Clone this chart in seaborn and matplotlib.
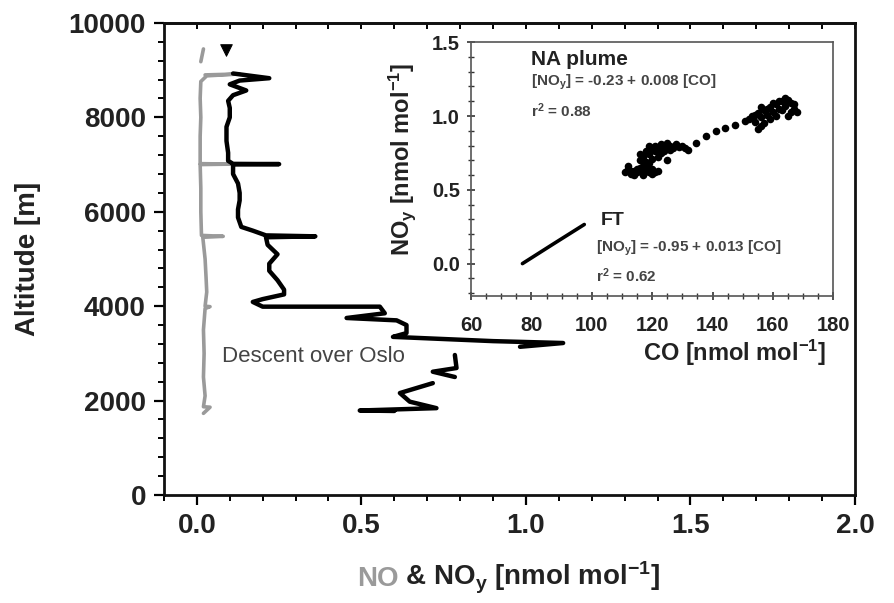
import numpy as np
import pandas as pd
import matplotlib
matplotlib.use("Agg")
import matplotlib.pyplot as plt
import seaborn as sns

# ---------------- data ----------------
# NOy profile (black), segments
noy_seg1_x = [0.11, 0.22, 0.13, 0.10, 0.15, 0.11, 0.095, 0.10, 0.10, 0.09, 0.09, 0.095, 0.095,
              0.11, 0.25, 0.11, 0.11, 0.125, 0.13, 0.13, 0.125, 0.125, 0.135, 0.17, 0.21, 0.36,
              0.21, 0.215, 0.245, 0.22, 0.22, 0.245, 0.265, 0.265, 0.20, 0.17, 0.20, 0.40, 0.556,
              0.571, 0.455, 0.607, 0.637, 0.637, 0.596, 0.90, 1.113, 0.982]
noy_seg1_alt = [8930, 8830, 8780, 8700, 8570, 8470, 8350, 8200, 8000, 7800, 7500, 7250, 7080,
                7015, 7010, 7005, 6800, 6600, 6400, 6240, 6050, 5880, 5680, 5600, 5500, 5480,
                5460, 5300, 5100, 4900, 4750, 4550, 4350, 4250, 4150, 4090, 3990, 3990, 3990,
                3850, 3750, 3700, 3600, 3430, 3350, 3260, 3220, 3140]
noy_seg2_x = [0.784, 0.789, 0.717, 0.784]
noy_seg2_alt = [2966, 2690, 2612, 2500]
noy_seg3_x = [0.717, 0.617, 0.647, 0.728, 0.495, 0.60]
noy_seg3_alt = [2370, 2160, 1977, 1840, 1790, 1780]
noy_top_x = [0.09]
noy_top_alt = [9420]

# NO profile (grey)
no_top_x = [0.012, 0.02]
no_top_alt = [9180, 9450]
no_main_x = [0.025, 0.13, 0.03, 0.012, 0.01, 0.012, 0.01, 0.01, 0.107, 0.01, 0.012, 0.012,
             0.014, 0.08, 0.018, 0.025, 0.028, 0.03, 0.025, 0.04, 0.025, 0.02, 0.022, 0.02,
             0.025, 0.02, 0.04, 0.02]
no_main_alt = [8900, 8920, 8880, 8760, 8400, 8000, 7600, 7020, 7010, 7000, 6500, 6000,
               5500, 5480, 5460, 5000, 4600, 4300, 4000, 3990, 3950, 3500, 3000, 2500,
               2100, 1870, 1860, 1730]

# Inset: NA plume scatter
plume_co = [111, 112, 113, 114, 115, 116, 117, 118, 119, 120, 121, 122, 112, 114, 116, 118, 120,
            113, 115, 117, 119,
            116, 117, 118, 116, 118, 119, 120, 121, 122, 123, 124, 125, 126, 127, 128, 129, 130,
            131, 132, 119, 121, 123, 125, 124, 126, 122, 120, 117, 119,
            134.4, 137.7, 141, 144.3, 147.6, 150.9,
            152, 153, 154, 155, 156, 157, 158, 159, 160, 161, 162, 163, 164, 165, 166, 167, 168,
            166, 164, 162, 160, 158, 156, 155, 157, 159, 161, 163, 165, 167, 154, 156]
plume_noy = [0.62, 0.64, 0.61, 0.63, 0.62, 0.65, 0.61, 0.63, 0.62, 0.64, 0.62, 0.63, 0.66, 0.60,
             0.63, 0.66, 0.61, 0.63, 0.64, 0.60, 0.65,
             0.70, 0.72, 0.69, 0.74, 0.76, 0.74, 0.78, 0.80, 0.77, 0.81, 0.79, 0.82, 0.80, 0.78,
             0.81, 0.79, 0.80, 0.78, 0.77, 0.80, 0.76, 0.75, 0.70, 0.76, 0.77, 0.72, 0.71, 0.66,
             0.68,
             0.82, 0.865, 0.90, 0.92, 0.94, 0.966,
             0.98, 1.00, 0.96, 1.02, 0.99, 1.04, 1.01, 1.06, 1.03, 1.08, 1.05, 1.10, 1.07, 1.11,
             1.09, 1.05, 1.03, 1.03, 1.12, 1.10, 1.09, 1.05, 0.93, 0.91, 0.95, 0.98, 1.00, 1.04,
             1.00, 1.08, 1.01, 1.06]
# Inset: FT
ft_co = [77, 87, 97.5]
ft_noy = [0.0, 0.13, 0.265]

main_xticks = [0.0, 0.5, 1.0, 1.5, 2.0]
main_yticks = [0, 2000, 4000, 6000, 8000, 10000]
inset_xticks = [60, 80, 100, 120, 140, 160, 180]
inset_yticks = [0.0, 0.5, 1.0, 1.5]

# ---------------- style ----------------
sns.set_theme(style="ticks")
plt.rcParams["font.family"] = ["Liberation Sans", "DejaVu Sans"]
plt.rcParams.update({
    "mathtext.fontset": "custom",
    "mathtext.rm": "Liberation Sans:bold",
    "mathtext.it": "Liberation Sans:bold",
    "mathtext.bf": "Liberation Sans:bold",
    "mathtext.sf": "Liberation Sans:bold",
    "mathtext.default": "rm",
})

GREY = "#9a9a9a"
fig = plt.figure(figsize=(8.94, 6.03), dpi=100)
ax = fig.add_axes([0.1834, 0.1791, 0.7730, 0.7828])

def seg_df(parts):
    rows = []
    for i, (xs, ys) in enumerate(parts):
        for x, y in zip(xs, ys):
            rows.append({"x": x, "alt": y, "seg": i})
    return pd.DataFrame(rows)

no_df = seg_df([(no_top_x, no_top_alt), (no_main_x, no_main_alt)])
noy_df = seg_df([(noy_seg1_x, noy_seg1_alt), (noy_seg2_x, noy_seg2_alt), (noy_seg3_x, noy_seg3_alt)])

sns.lineplot(data=no_df, x="x", y="alt", units="seg", estimator=None, sort=False,
             color=GREY, linewidth=2.6, ax=ax, legend=False)
sns.lineplot(data=noy_df, x="x", y="alt", units="seg", estimator=None, sort=False,
             color="black", linewidth=3.2, ax=ax, legend=False)
sns.scatterplot(x=noy_top_x, y=noy_top_alt, marker="v", s=70, color="black",
                edgecolor="black", ax=ax, legend=False)

ax.set_xlim(-0.1, 2.0)
ax.set_ylim(0, 10000)
ax.set_xticks(main_xticks)
ax.set_xticklabels([f"{v:.1f}" for v in main_xticks])
ax.set_xticks(np.arange(-0.1, 2.001, 0.1), minor=True)
ax.set_yticks(main_yticks)
ax.set_yticklabels([str(v) for v in main_yticks])
ax.set_yticks(np.arange(0, 10001, 400), minor=True)
ax.tick_params(axis="both", which="major", direction="out", length=7, width=1.6,
               labelsize=20, color="black")
ax.tick_params(axis="both", which="minor", direction="out", length=4, width=1.4, color="black")
ax.tick_params(axis="x", which="major", pad=6)
ax.tick_params(axis="y", which="major", pad=6)
for lab in ax.get_xticklabels() + ax.get_yticklabels():
    lab.set_fontweight("bold")
    lab.set_color("#222222")
for sp in ax.spines.values():
    sp.set_visible(True)
    sp.set_linewidth(2.0)
    sp.set_color("#111111")
ax.set_xlabel("")
ax.set_ylabel("Altitude [m]", fontsize=20, fontweight="bold", color="#222222", labelpad=20)

sec = ax.secondary_xaxis("top")
sec.set_xticks(np.arange(0.0, 2.001, 0.1))
sec.tick_params(direction="in", length=4, width=1.4, labeltop=False, color="black")
sec.spines["top"].set_linewidth(2.0)

ax.text(0.075, 2930, "Descent over Oslo", fontsize=16, color="#444444", ha="left", va="center")

# two-colour x label
t1 = ax.text(0.279, -0.192, "NO", transform=ax.transAxes, fontsize=20, fontweight="bold",
             color=GREY, ha="left", va="baseline")
fig.canvas.draw()
bb = t1.get_window_extent()
x_end = ax.transAxes.inverted().transform((bb.x1, bb.y0))[0]
ax.text(x_end, -0.192, r" & NO$_y$ [nmol mol$^{-1}$]", transform=ax.transAxes, fontsize=20,
        fontweight="bold", color="#222222", ha="left", va="baseline")

# ---------------- inset ----------------
ins = fig.add_axes([0.527, 0.509, 0.405, 0.421])
ins.set_facecolor("white")
sns.scatterplot(x=plume_co, y=plume_noy, s=30, color="black", edgecolor="black",
                linewidth=0, ax=ins, legend=False)
sns.lineplot(x=ft_co, y=ft_noy, color="black", linewidth=2.6, ax=ins, legend=False,
             estimator=None, sort=False)
ins.set_xlim(60, 180)
ins.set_ylim(-0.22, 1.5)
ins.set_xticks(inset_xticks)
ins.set_xticklabels([str(v) for v in inset_xticks])
ins.set_xticks(np.arange(60, 181, 5), minor=True)
ins.set_yticks(inset_yticks)
ins.set_yticklabels([f"{v:.1f}" for v in inset_yticks])
ins.set_yticks(np.arange(-0.2, 1.51, 0.1), minor=True)
ins.tick_params(axis="both", which="major", direction="inout", length=6, width=1.2,
                labelsize=14.5, color="#333333")
ins.tick_params(axis="both", which="minor", direction="inout", length=4, width=1.0,
                color="#333333")
ins.tick_params(axis="x", which="major", pad=11)
ins.tick_params(axis="y", which="major", pad=5)
for lab in ins.get_xticklabels() + ins.get_yticklabels():
    lab.set_fontweight("bold")
    lab.set_color("#222222")
for sp in ins.spines.values():
    sp.set_visible(True)
    sp.set_linewidth(1.2)
    sp.set_color("#555555")
ins.set_xlabel(r"CO [nmol mol$^{-1}$]", fontsize=17, fontweight="bold", color="#222222")
ins.xaxis.label.set_va("center")
ins.xaxis.set_label_coords(0.727, -0.224)
ins.set_ylabel(r"NO$_y$ [nmol mol$^{-1}$]", fontsize=17, fontweight="bold", color="#222222")
ins.yaxis.label.set_va("center")
ins.yaxis.set_label_coords(-0.19, 0.54)

ins.text(80, 1.385, "NA plume", fontsize=15, fontweight="bold", color="#222222",
         ha="left", va="center")
ins.text(80, 1.225, r"[NO$_y$] = -0.23 + 0.008 [CO]", fontsize=11, fontweight="bold",
         color="#444444", ha="left", va="center")
ins.text(80, 1.034, r"r$^2$ = 0.88", fontsize=11, fontweight="bold", color="#444444",
         ha="left", va="center")
ins.text(103, 0.29, "FT", fontsize=14, fontweight="bold", color="#222222", ha="left", va="center")
ins.text(101.4, 0.10, r"[NO$_y$] = -0.95 + 0.013 [CO]", fontsize=11, fontweight="bold",
         color="#444444", ha="left", va="center")
ins.text(101.4, -0.08, r"r$^2$ = 0.62", fontsize=11, fontweight="bold", color="#444444",
         ha="left", va="center")

fig.savefig("out.png", dpi=100)
